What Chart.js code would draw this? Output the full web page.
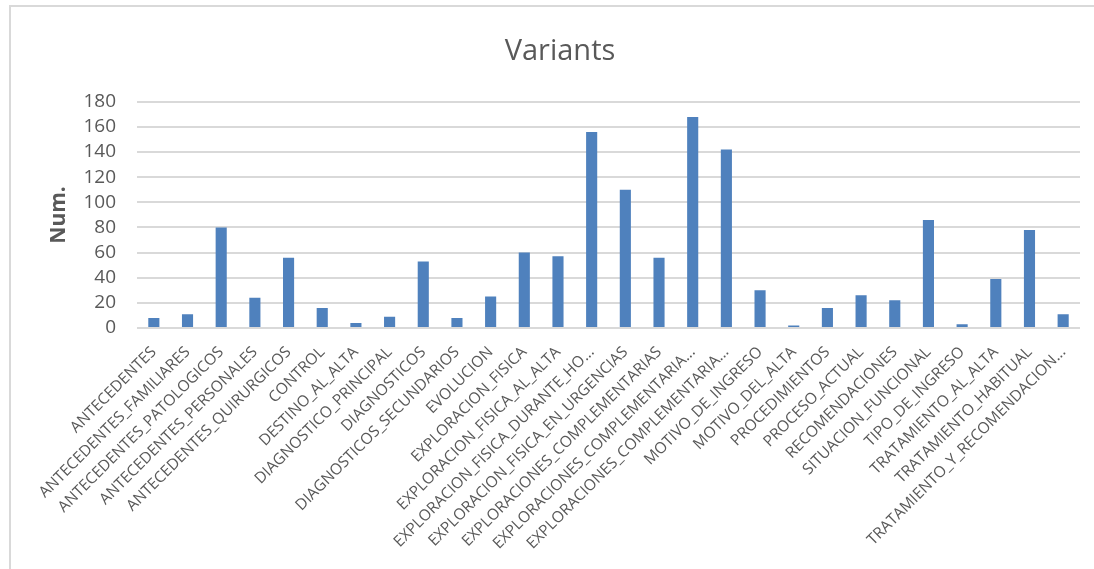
<!DOCTYPE html>
<html>
<head>
<meta charset="utf-8">
<script src="https://cdn.jsdelivr.net/npm/chart.js@4/dist/chart.umd.min.js"></script>
<style>
  html, body { margin: 0; padding: 0; background: #fff; overflow: hidden; }
  #frame {
    position: absolute; left: 9px; top: 5px;
    width: 1085px; height: 564px; box-sizing: border-box;
    border-top: 2px solid #d9d9d9; border-left: 2px solid #d9d9d9;
  }
  #c { position: absolute; left: 0; top: 0; }
</style>
</head>
<body>
<div id="frame"></div>
<canvas id="c" width="1094" height="569"></canvas>
<script>
// Section names of the clinical reports and how many variants each one has
const categories = [
  "ANTECEDENTES",
  "ANTECEDENTES_FAMILIARES",
  "ANTECEDENTES_PATOLOGICOS",
  "ANTECEDENTES_PERSONALES",
  "ANTECEDENTES_QUIRURGICOS",
  "CONTROL",
  "DESTINO_AL_ALTA",
  "DIAGNOSTICO_PRINCIPAL",
  "DIAGNOSTICOS",
  "DIAGNOSTICOS_SECUNDARIOS",
  "EVOLUCION",
  "EXPLORACION_FISICA",
  "EXPLORACION_FISICA_AL_ALTA",
  "EXPLORACION_FISICA_DURANTE_HO...",
  "EXPLORACION_FISICA_EN_URGENCIAS",
  "EXPLORACIONES_COMPLEMENTARIAS",
  "EXPLORACIONES_COMPLEMENTARIA...",
  "EXPLORACIONES_COMPLEMENTARIA...",
  "MOTIVO_DE_INGRESO",
  "MOTIVO_DEL_ALTA",
  "PROCEDIMIENTOS",
  "PROCESO_ACTUAL",
  "RECOMENDACIONES",
  "SITUACION_FUNCIONAL",
  "TIPO_DE_INGRESO",
  "TRATAMIENTO_AL_ALTA",
  "TRATAMIENTO_HABITUAL",
  "TRATAMIENTO_Y_RECOMENDACION..."
];

const variantCounts = [
  8, 11, 80, 24, 56, 16, 4, 9, 53, 8,
  25, 60, 57, 156, 110, 56, 168, 142, 30, 2,
  16, 26, 22, 86, 3, 39, 78, 11
];

const yTicks = [0, 20, 40, 60, 80, 100, 120, 140, 160, 180];

const chartTitle = "Variants";
const yTitle = "Num.";

const FONT = "'Open Sans', 'Noto Sans', sans-serif";
const TEXT_GREY = "#595959";

new Chart(document.getElementById("c"), {
  type: "bar",
  data: {
    labels: categories,
    datasets: [{
      label: yTitle,
      data: variantCounts,
      backgroundColor: "#4f81bd",
      borderWidth: 0,
      categoryPercentage: 1,
      barPercentage: 0.33
    }]
  },
  options: {
    responsive: false,
    animation: false,
    layout: { padding: { top: 10, left: 40, right: 14, bottom: 0 } },
    plugins: {
      legend: { display: false },
      tooltip: { enabled: false },
      title: {
        display: true,
        text: chartTitle,
        color: TEXT_GREY,
        font: { family: FONT, size: 29, weight: "normal" },
        padding: { top: 24, bottom: 33 }
      }
    },
    scales: {
      x: {
        grid: { display: false },
        border: { display: false },
        ticks: {
          color: TEXT_GREY,
          font: { family: FONT, size: 15.5 },
          minRotation: 45,
          maxRotation: 45,
          autoSkip: false,
          padding: 7
        },
        afterFit(scale) { scale.height = 241; }
      },
      y: {
        min: 0,
        max: 180,
        grid: { color: "#d9d9d9", lineWidth: 2, drawTicks: false },
        border: { display: false },
        ticks: {
          color: TEXT_GREY,
          font: { family: FONT, size: 19 },
          padding: 21,
          autoSkip: false
        },
        afterBuildTicks(scale) { scale.ticks = yTicks.map(v => ({ value: v })); },
        title: {
          display: true,
          text: yTitle,
          color: TEXT_GREY,
          font: { family: FONT, size: 21, weight: "bold" },
          padding: { top: 6, bottom: 0 }
        },
        afterFit(scale) { scale.width = 97; }
      }
    }
  }
});
</script>
</body>
</html>
